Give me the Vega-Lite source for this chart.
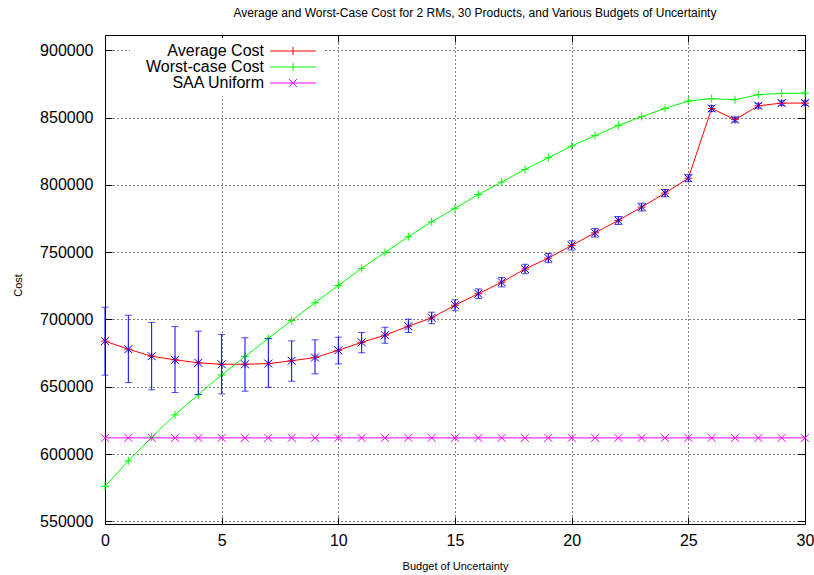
{
  "$schema": "https://vega.github.io/schema/vega-lite/v6.json",
  "width": 700,
  "height": 489,
  "autosize": {"type": "none"},
  "padding": {"left": 105, "top": 35, "right": 9, "bottom": 51},
  "background": "white",
  "title": {
    "text": "Average and Worst-Case Cost for 2 RMs, 30 Products, and Various Budgets of Uncertainty",
    "font": "Liberation Sans",
    "fontSize": 12,
    "fontWeight": "normal",
    "color": "#000",
    "anchor": "middle",
    "baseline": "alphabetic",
    "offset": 6,
    "dx": 20
  },
  "config": {
    "view": {"stroke": "#000", "strokeWidth": 1},
    "font": "Liberation Sans",
    "axis": {
      "labelFont": "Liberation Sans",
      "labelFontSize": 16,
      "labelColor": "#000",
      "tickColor": "#000",
      "tickSize": -7,
      "tickWidth": 1,
      "domain": false,
      "gridColor": "#000",
      "gridDash": [1, 3],
      "gridOpacity": 1,
      "gridWidth": 1,
      "titleFont": "Liberation Sans",
      "titleFontSize": 11,
      "titleFontWeight": "normal",
      "titleColor": "#000"
    }
  },
  "data": {
    "values": [
      {"b": 0, "avg": 683900, "lo": 658600, "hi": 709100, "worst": 576000, "saa": 612000},
      {"b": 1, "avg": 677900, "lo": 653100, "hi": 703100, "worst": 594900, "saa": 612000},
      {"b": 2, "avg": 672700, "lo": 647700, "hi": 697800, "worst": 612400, "saa": 612000},
      {"b": 3, "avg": 670000, "lo": 645700, "hi": 694700, "worst": 629100, "saa": 612000},
      {"b": 4, "avg": 667800, "lo": 644200, "hi": 691300, "worst": 644200, "saa": 612000},
      {"b": 5, "avg": 666700, "lo": 644700, "hi": 688800, "worst": 658800, "saa": 612000},
      {"b": 6, "avg": 666700, "lo": 646700, "hi": 686400, "worst": 672400, "saa": 612000},
      {"b": 7, "avg": 667200, "lo": 649600, "hi": 685800, "worst": 686000, "saa": 612000},
      {"b": 8, "avg": 669300, "lo": 654100, "hi": 684100, "worst": 699200, "saa": 612000},
      {"b": 9, "avg": 671700, "lo": 659600, "hi": 684900, "worst": 712400, "saa": 612000},
      {"b": 10, "avg": 677100, "lo": 667000, "hi": 686800, "worst": 725200, "saa": 612000},
      {"b": 11, "avg": 683000, "lo": 675200, "hi": 690300, "worst": 738000, "saa": 612000},
      {"b": 12, "avg": 688300, "lo": 682300, "hi": 694200, "worst": 749800, "saa": 612000},
      {"b": 13, "avg": 695000, "lo": 690300, "hi": 700200, "worst": 761500, "saa": 612000},
      {"b": 14, "avg": 701200, "lo": 696800, "hi": 705400, "worst": 772600, "saa": 612000},
      {"b": 15, "avg": 710600, "lo": 706500, "hi": 714600, "worst": 782600, "saa": 612000},
      {"b": 16, "avg": 719100, "lo": 715500, "hi": 722700, "worst": 792900, "saa": 612000},
      {"b": 17, "avg": 727700, "lo": 724200, "hi": 731200, "worst": 802100, "saa": 612000},
      {"b": 18, "avg": 737500, "lo": 734000, "hi": 741000, "worst": 811500, "saa": 612000},
      {"b": 19, "avg": 745600, "lo": 742200, "hi": 749000, "worst": 820200, "saa": 612000},
      {"b": 20, "avg": 755000, "lo": 751600, "hi": 758400, "worst": 828900, "saa": 612000},
      {"b": 21, "avg": 764400, "lo": 761200, "hi": 767600, "worst": 836600, "saa": 612000},
      {"b": 22, "avg": 773600, "lo": 770600, "hi": 776600, "worst": 844200, "saa": 612000},
      {"b": 23, "avg": 783500, "lo": 780600, "hi": 786400, "worst": 850700, "saa": 612000},
      {"b": 24, "avg": 793900, "lo": 791200, "hi": 796600, "worst": 856900, "saa": 612000},
      {"b": 25, "avg": 805000, "lo": 802400, "hi": 807600, "worst": 862300, "saa": 612000},
      {"b": 26, "avg": 856800, "lo": 854600, "hi": 859000, "worst": 864100, "saa": 612000},
      {"b": 27, "avg": 848500, "lo": 846600, "hi": 850400, "worst": 863300, "saa": 612000},
      {"b": 28, "avg": 858800, "lo": 857000, "hi": 860600, "worst": 867100, "saa": 612000},
      {"b": 29, "avg": 860800, "lo": 859100, "hi": 862500, "worst": 868000, "saa": 612000},
      {"b": 30, "avg": 860800, "lo": 859100, "hi": 862500, "worst": 868200, "saa": 612000}
    ]
  },
  "resolve": {
    "axis": {"x": "independent", "y": "independent"},
    "scale": {"color": "independent", "shape": "independent"}
  },
  "layer": [
    {
      "transform": [{"fold": ["avg", "worst", "saa"], "as": ["series", "cost"]}],
      "mark": {"type": "line", "strokeWidth": 1},
      "encoding": {
        "x": {
          "field": "b", "type": "quantitative",
          "scale": {"domain": [0, 30], "nice": false, "zero": false},
          "axis": {
            "orient": "bottom", "values": [0, 5, 10, 15, 20, 25, 30], "grid": true,
            "labelPadding": 15, "labelFlush": false,
            "title": "Budget of Uncertainty", "titleY": 42, "titleBaseline": "middle"
          }
        },
        "y": {
          "field": "cost", "type": "quantitative",
          "scale": {"domain": [548000, 911400], "nice": false, "zero": false},
          "axis": {
            "orient": "left", "values": [550000, 600000, 650000, 700000, 750000, 800000, 850000, 900000],
            "format": "d", "grid": true, "labelPadding": 19, "labelFlush": false,
            "title": "Cost", "titleX": -87, "titleY": 250, "titleBaseline": "middle", "titleAlign": "center"
          }
        },
        "color": {
          "field": "series", "type": "nominal",
          "scale": {"domain": ["avg", "worst", "saa"], "range": ["#ff0000", "#00ff00", "#ff00ff"]},
          "legend": null
        }
      }
    },
    {
      "transform": [{"fold": ["avg", "worst", "saa"], "as": ["series", "cost"]}],
      "mark": {"type": "point", "filled": false, "size": 64, "strokeWidth": 1, "opacity": 1},
      "encoding": {
        "x": {"field": "b", "type": "quantitative", "axis": null},
        "y": {"field": "cost", "type": "quantitative", "axis": null},
        "color": {
          "field": "series", "type": "nominal",
          "scale": {"domain": ["avg", "worst", "saa"], "range": ["#ff0000", "#00ff00", "#ff00ff"]},
          "legend": null
        },
        "shape": {
          "field": "series", "type": "nominal",
          "scale": {"domain": ["avg", "worst", "saa"], "range": ["M-1,0L1,0M0,-1L0,1", "M-1,0L1,0M0,-1L0,1", "M-1,-1L1,1M-1,1L1,-1"]},
          "legend": null
        }
      }
    },
    {
      "mark": {"type": "rule", "color": "#0000ff", "strokeWidth": 1},
      "encoding": {
        "x": {
          "field": "b", "type": "quantitative",
          "axis": {"orient": "top", "values": [0, 5, 10, 15, 20, 25, 30], "labels": false, "grid": false, "title": null}
        },
        "y": {
          "field": "lo", "type": "quantitative",
          "axis": {"orient": "right", "values": [550000, 600000, 650000, 700000, 750000, 800000, 850000, 900000], "labels": false, "grid": false, "title": null}
        },
        "y2": {"field": "hi"}
      }
    },
    {
      "mark": {"type": "tick", "orient": "horizontal", "color": "#0000ff", "size": 7, "thickness": 1},
      "encoding": {
        "x": {"field": "b", "type": "quantitative", "axis": null},
        "y": {"field": "lo", "type": "quantitative", "axis": null}
      }
    },
    {
      "mark": {"type": "tick", "orient": "horizontal", "color": "#0000ff", "size": 7, "thickness": 1},
      "encoding": {
        "x": {"field": "b", "type": "quantitative", "axis": null},
        "y": {"field": "hi", "type": "quantitative", "axis": null}
      }
    },
    {
      "mark": {"type": "point", "filled": false, "size": 64, "strokeWidth": 1, "color": "#0000ff", "opacity": 1, "shape": "M-1,-1L1,1M-1,1L1,-1"},
      "encoding": {
        "x": {"field": "b", "type": "quantitative", "axis": null},
        "y": {"field": "avg", "type": "quantitative", "axis": null}
      }
    },
    {
      "transform": [
        {"fold": ["avg", "worst", "saa"], "as": ["series", "cost"]},
        {"filter": "datum.b < 0"}
      ],
      "mark": {"type": "point", "filled": false, "size": 64, "strokeWidth": 1, "opacity": 1},
      "encoding": {
        "x": {"field": "b", "type": "quantitative", "axis": null},
        "y": {"field": "cost", "type": "quantitative", "axis": null},
        "color": {
          "field": "series", "type": "nominal",
          "scale": {"domain": ["avg", "worst", "saa"], "range": ["#ff0000", "#00ff00", "#ff00ff"]},
          "legend": {
            "orient": "none", "legendX": 25, "legendY": 3, "title": null,
            "labelFont": "Liberation Sans", "labelFontSize": 16, "labelColor": "#000",
            "labelAlign": "right", "labelOffset": 113, "labelLimit": 400,
            "labelExpr": "datum.label == 'avg' ? 'Average Cost' : datum.label == 'worst' ? 'Worst-case Cost' : 'SAA Uniform'",
            "symbolSize": 64, "symbolStrokeWidth": 1, "symbolFillColor": "transparent",
            "padding": 5, "fillColor": "white", "rowPadding": 0
          }
        },
        "shape": {
          "field": "series", "type": "nominal",
          "scale": {"domain": ["avg", "worst", "saa"], "range": ["M31.75,0L43.25,0M37.5,-1L37.5,1", "M31.75,0L43.25,0M37.5,-1L37.5,1", "M31.75,0L43.25,0M36.5,-1L38.5,1M36.5,1L38.5,-1"]},
          "legend": {
            "orient": "none", "legendX": 25, "legendY": 3, "title": null,
            "labelFont": "Liberation Sans", "labelFontSize": 16, "labelColor": "#000",
            "labelAlign": "right", "labelOffset": 113, "labelLimit": 400,
            "labelExpr": "datum.label == 'avg' ? 'Average Cost' : datum.label == 'worst' ? 'Worst-case Cost' : 'SAA Uniform'",
            "symbolSize": 64, "symbolStrokeWidth": 1, "symbolFillColor": "transparent",
            "padding": 5, "fillColor": "white", "rowPadding": 0
          }
        }
      }
    }
  ]
}
